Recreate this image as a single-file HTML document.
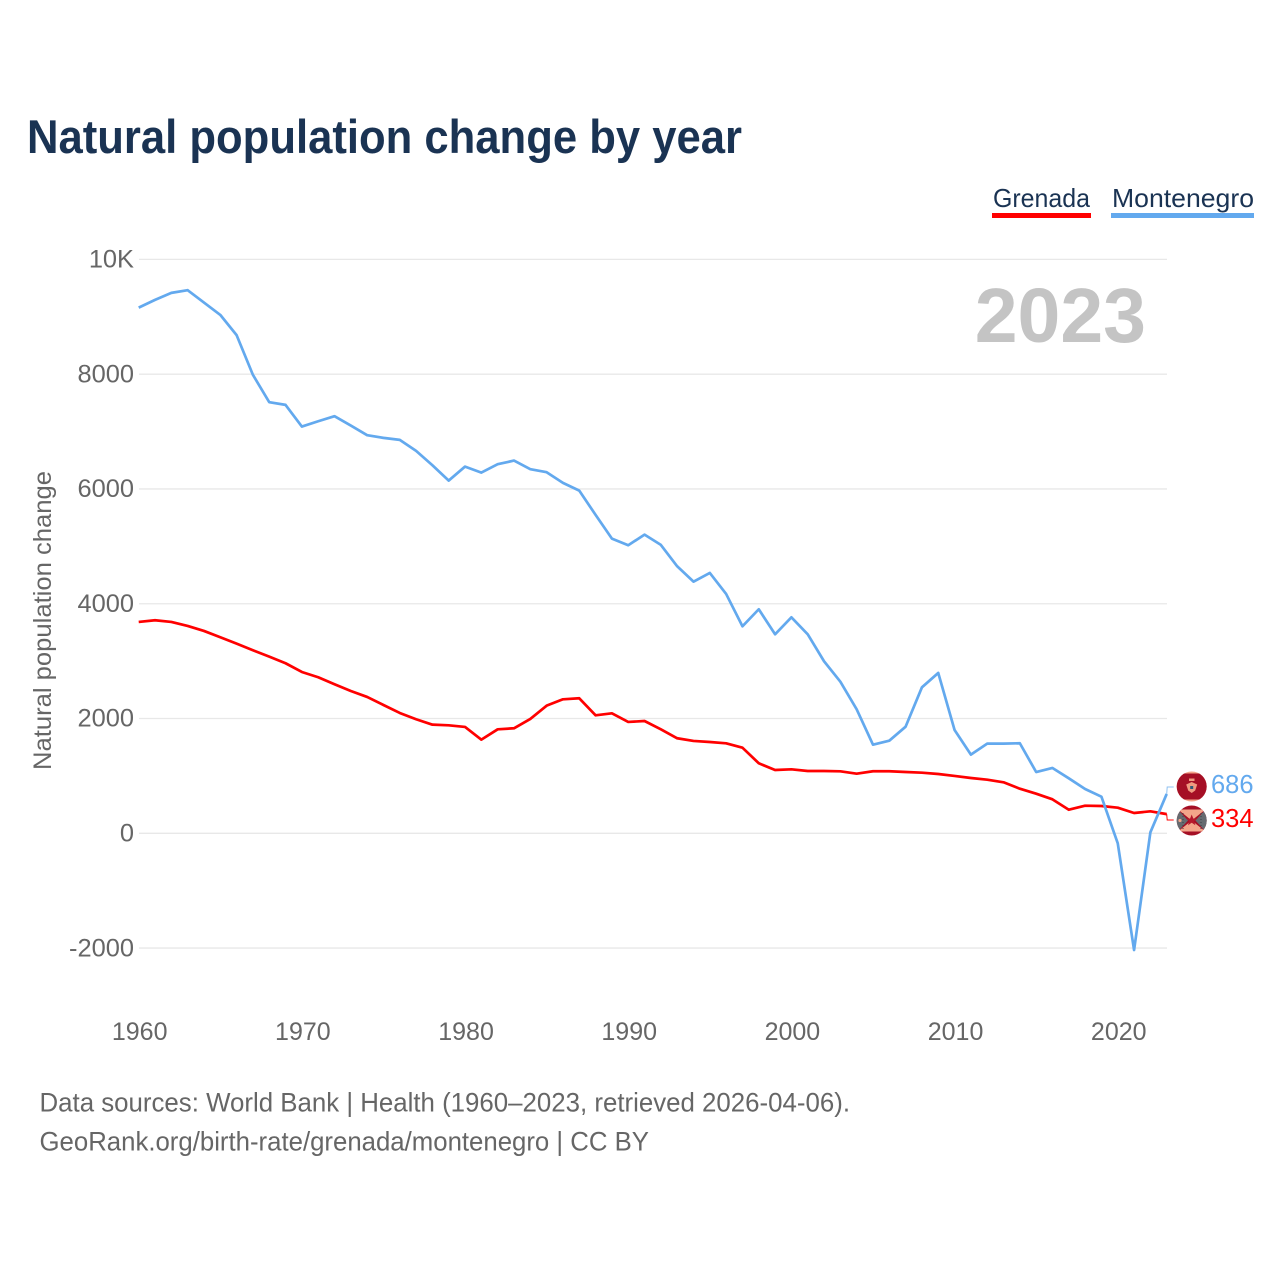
<!DOCTYPE html>
<html lang="en">
<head>
<meta charset="utf-8">
<title>Natural population change by year</title>
<style>
html,body{margin:0;padding:0;background:#fff;}
svg{display:block;font-family:"Liberation Sans",sans-serif;}
</style>
</head>
<body>
<svg id="chart" xmlns="http://www.w3.org/2000/svg" width="1280" height="1280" viewBox="0 0 1280 1280">
  <defs>
    <clipPath id="clip-a"><circle cx="1191.7" cy="786.5" r="15"/></clipPath>
    <clipPath id="clip-b"><circle cx="1191.7" cy="820.5" r="15"/></clipPath>
  </defs>
  <rect width="1280" height="1280" fill="#fff"/>
  <text x="27" y="153" font-size="47" font-weight="700" fill="#1a3353" textLength="715" lengthAdjust="spacingAndGlyphs">Natural population change by year</text>

  <g>
    <text x="993" y="207" font-size="26" fill="#1a3353" textLength="97" lengthAdjust="spacingAndGlyphs">Grenada</text>
    <rect x="992" y="213" width="99" height="5" fill="#ff0000"/>
  </g>
  <g>
    <text x="1112" y="207" font-size="26" fill="#1a3353" textLength="142" lengthAdjust="spacingAndGlyphs">Montenegro</text>
    <rect x="1111" y="213" width="143" height="5" fill="#63a9ee"/>
  </g>

  <g id="grid"></g>
  <g id="yticks"></g>
  <g id="xticks"></g>

  <text transform="translate(51,770) rotate(-90)" font-size="25" fill="#666666" textLength="299" lengthAdjust="spacingAndGlyphs">Natural population change</text>
  <text x="1146" y="342" text-anchor="end" font-size="77" font-weight="700" fill="#c4c4c4">2023</text>

  <g id="series"></g>

  <g clip-path="url(#clip-a)">
    <rect x="1176" y="771" width="32" height="32" fill="#f4a58a"/>
    <rect x="1176" y="773.5" width="32" height="26" fill="#a50f25"/>
    <path d="M1191.7 782l5.5 2.5-2 6-3.5 2.5-3.5-2.5-2-6z" fill="#f09a80"/>
    <rect x="1189" y="778.5" width="5.5" height="2.5" fill="#f09a80"/>
    <rect x="1190.2" y="786" width="3" height="3" fill="#2f5a78"/>
  </g>
  <g clip-path="url(#clip-b)">
    <rect x="1176" y="805" width="32" height="32" fill="#a50f25"/>
    <path d="M1178 809.5H1205.4L1191.7 820.5L1205.4 831.5H1178L1191.7 820.5z" fill="#f4a58a"/>
    <path d="M1176 807.5L1188 820.5L1176 833.5z" fill="#666b70"/>
    <path d="M1207.4 807.5L1195.4 820.5L1207.4 833.5z" fill="#666b70"/>
    <path d="M1191.7 814.5l1.6 4h4.2l-3.4 2.6 1.3 4.2-3.7-2.6-3.7 2.6 1.3-4.2-3.4-2.6h4.2z" fill="#b5182c"/>
    <circle cx="1180" cy="820.5" r="1.6" fill="#f4a58a"/>
    <line x1="1201" y1="813" x2="1201" y2="829" stroke="#3a3f44" stroke-width="1" stroke-dasharray="1 2"/>
    <line x1="1183" y1="813" x2="1183" y2="829" stroke="#3a3f44" stroke-width="1" stroke-dasharray="1 2"/>
  </g>

  <g>
    <text x="1211" y="793" font-size="25.5" fill="#63a9ee">686</text>
  </g>
  <g>
    <text x="1211" y="827" font-size="25.5" fill="#ff0000">334</text>
  </g>

  <text x="39.5" y="1111.5" font-size="27" fill="#666666" textLength="810.5" lengthAdjust="spacingAndGlyphs">Data sources: World Bank | Health (1960–2023, retrieved 2026-04-06).</text>
  <a>
    <text x="39.5" y="1150.5" font-size="27" fill="#666666" textLength="609.5" lengthAdjust="spacingAndGlyphs">GeoRank.org/birth-rate/grenada/montenegro | CC BY</text>
  </a>
</svg>
<script>
const firstYear = 1960;
const yTickValues = [10000, 8000, 6000, 4000, 2000, 0, -2000];
const yTickLabels = ["10K", "8000", "6000", "4000", "2000", "0", "-2000"];
const xTickValues = [1960, 1970, 1980, 1990, 2000, 2010, 2020];
const xTickLabels = ["1960", "1970", "1980", "1990", "2000", "2010", "2020"];
const grenadaValues = [3683,3712,3683,3613,3526,3416,3305,3190,3078,2963,2811,2719,2597,2480,2376,2236,2097,1987,1893,1882,1853,1632,1812,1830,1992,2224,2335,2353,2056,2091,1940,1957,1812,1656,1609,1591,1568,1492,1220,1103,1115,1086,1086,1080,1039,1081,1081,1068,1056,1033,999,964,934,889,777,690,592,411,481,476,446,354,383,334];
const montenegroValues = [9160,9295,9417,9464,9248,9033,8680,7988,7512,7465,7087,7180,7268,7105,6937,6890,6855,6663,6413,6146,6390,6285,6431,6494,6344,6292,6106,5971,5548,5135,5019,5205,5025,4653,4385,4537,4171,3607,3904,3468,3764,3468,2998,2642,2161,1544,1614,1858,2544,2794,1800,1370,1562,1562,1569,1068,1138,958,772,638,-174,-2034,17,686];

const SVG_NS = "http://www.w3.org/2000/svg";
function xScale(year) { return 138.7 + (year - 1960) * (1028 / 63); }
function yScale(v) { return 833.3 - v * (573.9 / 10000); }
function make(tag, attrs, parent, text) {
  const el = document.createElementNS(SVG_NS, tag);
  for (const k in attrs) el.setAttribute(k, attrs[k]);
  if (text !== undefined) el.textContent = text;
  parent.appendChild(el);
  return el;
}

const grid = document.getElementById("grid");
const yticks = document.getElementById("yticks");
yTickValues.forEach(function (v, i) {
  const line = make("line", {x1: 139, x2: 1167, y1: yScale(v), y2: yScale(v), stroke: "#e8e8e8", "stroke-width": 1.3}, grid);
  
  
  const label = make("text", {x: 134, y: yScale(v) + 8.2, "text-anchor": "end", "font-size": 25.4, fill: "#666666"}, yticks, yTickLabels[i]);
  
  
});

const xticks = document.getElementById("xticks");
xTickValues.forEach(function (year, i) {
  const label = make("text", {x: xScale(year) + 1, y: 1040, "text-anchor": "middle", "font-size": 25, fill: "#666666"}, xticks, xTickLabels[i]);
  
  
});

function linePoints(values) {
  return values.map(function (v, i) {
    return xScale(firstYear + i).toFixed(2) + "," + yScale(v).toFixed(2);
  }).join(" ");
}

const series = document.getElementById("series");

const grenadaLine = make("polyline", {points: linePoints(grenadaValues), fill: "none", stroke: "#ff0000", "stroke-width": 2.7, "stroke-linejoin": "round"}, series);



const montenegroLine = make("polyline", {points: linePoints(montenegroValues), fill: "none", stroke: "#63a9ee", "stroke-width": 2.7, "stroke-linejoin": "round"}, series);



function connector(values, labelY, color) {
  const x = xScale(firstYear + values.length - 1);
  const y = yScale(values[values.length - 1]);
  return make("polyline", {points: x + "," + y + " " + (x + 0.5) + "," + labelY + " " + (x + 7) + "," + labelY, fill: "none", stroke: color, "stroke-width": 1}, series);
}
const grenadaConnector = connector(grenadaValues, 820, "#ff0000");


const montenegroConnector = connector(montenegroValues, 787, "#8fc1f2");


</script>
</body>
</html>
